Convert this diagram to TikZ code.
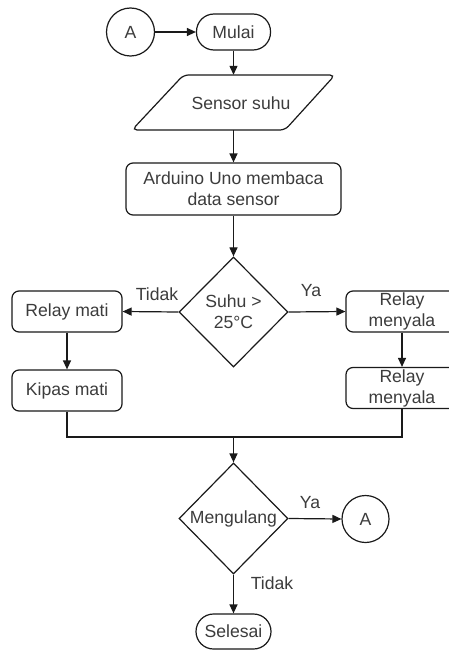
\documentclass[tikz,border=0pt]{standalone}
\usepackage{fontspec}
\setmainfont{Liberation Sans}
\usetikzlibrary{shapes.geometric,arrows.meta}
\definecolor{linec}{HTML}{1A1A1A}
\definecolor{textc}{HTML}{3C3C3C}
\tikzset{
  base/.style={draw=linec, line width=1.2pt, text=textc, font=\fontsize{17.6}{21}\selectfont,
    inner sep=0pt, align=center},
  proc/.style={base, rectangle, rounded corners=7pt},
  term/.style={base, rectangle, rounded corners=17.5pt},
  conn/.style={base, circle},
  decide/.style={base, diamond},
  lbl/.style={text=textc, font=\fontsize{17.6}{21}\selectfont, inner sep=0pt},
  flow/.style={draw=linec, line width=1.2pt, -{Triangle[length=9pt,width=8pt]}},
  plain/.style={draw=linec, line width=1.2pt}
}
\begin{document}
\begin{tikzpicture}[x=1pt,y=-1pt]
\clip (0,0) rectangle (449,650);
\fill[white] (0,0) rectangle (449,650);

% start
\node[conn, minimum size=48pt] (A1) at (130.5,32) {A};
\node[term, minimum width=74pt, minimum height=36pt] (mulai) at (233.5,32) {Mulai};

% input: sensor
\node[minimum width=200pt, minimum height=55pt, inner sep=0pt] (sensor) at (233.5,102.5) {};
\draw[plain, rounded corners=5pt] (183.5,75) -- (335,75) -- (285,130) -- (132,130) -- cycle;
\node[lbl] (sensortxt) at (241,103) {Sensor suhu};

% process
\node[proc, minimum width=215pt, minimum height=52pt] (arduino) at (233.5,189)
  {Arduino Uno membaca\\data sensor};

% decision 1
\node[decide, minimum width=109pt, minimum height=110pt] (d1) at (233.5,312) {};
\node[lbl, align=center] (d1txt) at (233.5,312) {Suhu >\\25°C};

% left branch
\node[proc, minimum width=110pt, minimum height=41pt] (rmati) at (67,311.5) {Relay mati};
\node[proc, minimum width=110pt, minimum height=41pt] (kipas) at (67,390.5) {Kipas mati};

% right branch
\node[proc, minimum width=112pt, minimum height=41pt] (ron) at (402,311.5) {Relay\\menyala};
\node[proc, minimum width=112pt, minimum height=41pt] (ron2) at (402,388) {Relay\\menyala};

% decision 2
\node[decide, minimum width=109pt, minimum height=111pt] (d2) at (233.5,518.5) {};
\node[lbl] (d2txt) at (233.5,519) {Mengulang};
\node[conn, minimum size=47pt] (A2) at (365.5,519) {A};

% end
\node[term, minimum width=75pt, minimum height=35pt] (selesai) at (233.5,631.5) {Selesai};

\coordinate (join) at (233.5,437);

% connectors
\draw[flow] (A1) -- (mulai);
\draw[flow] (mulai) -- (sensor);
\draw[flow] (sensor) -- (arduino);
\draw[flow] (arduino) -- (d1);
\draw[flow] (d1.west) -- (rmati.east);
\draw[flow] (d1.east) -- (ron.west);
\draw[flow] (rmati) -- (kipas);
\draw[flow] (ron) -- (ron2);
\draw[plain] (kipas.south) |- (join);
\draw[plain] (ron2.south) |- (join);
\draw[flow] (join) -- (d2.north);
\draw[flow] (d2.east) -- (A2.west);
\draw[flow] (d2.south) -- (selesai.north);

% branch labels
\node[lbl] (t1) at (157,294) {Tidak};
\node[lbl] (y1) at (311,291) {Ya};
\node[lbl] (y2) at (310,503) {Ya};
\node[lbl] (t2) at (272,583) {Tidak};
\end{tikzpicture}
\end{document}
